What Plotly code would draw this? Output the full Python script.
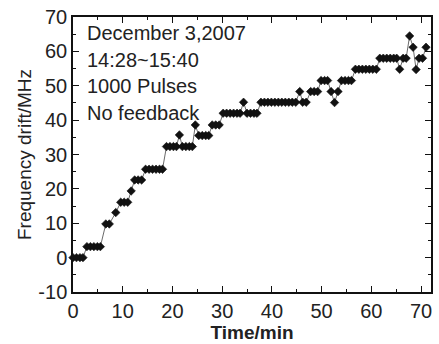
import plotly.graph_objects as go

time_min = [0.0, 0.7, 1.4, 2.0,
            2.8, 3.5, 4.2, 4.9, 5.5,
            6.6, 7.3,
            8.6,
            9.6, 10.3, 11.0,
            11.7,
            12.4, 13.1, 13.8,
            14.6, 15.3, 16.0, 16.7, 17.4, 18.0,
            18.8, 19.5, 20.2, 20.8, 21.4, 22.0, 22.7, 23.4, 24.0,
            24.6,
            25.3, 26.0, 26.7, 27.3,
            28.0, 28.7, 29.4,
            30.2, 30.9, 31.6, 32.3, 33.0, 33.6,
            34.3,
            35.0, 35.7, 36.4, 37.0,
            37.8, 38.5, 39.2, 39.9, 40.6, 41.3, 42.0, 42.7, 43.4, 44.1, 44.8,
            45.6, 46.2, 46.9,
            47.8, 48.5, 49.2,
            49.9, 50.6, 51.2,
            51.9, 52.6, 53.3,
            54.0, 54.7, 55.4, 56.0,
            56.8, 57.5, 58.2, 58.9, 59.6, 60.3, 61.0,
            61.7, 62.4, 63.1, 63.8, 64.5, 65.1, 65.7, 66.4, 67.0,
            67.7, 68.4, 69.0, 69.6, 70.3, 71.0]

drift_mhz = [0, 0, 0, 0,
             3.2, 3.2, 3.2, 3.2, 3.2,
             9.8, 9.8,
             13.1,
             16.1, 16.1, 16.1,
             19.4,
             22.6, 22.6, 22.6,
             25.7, 25.7, 25.7, 25.7, 25.7, 25.7,
             32.3, 32.3, 32.3, 32.3, 35.7, 32.3, 32.3, 32.3, 32.3,
             38.6,
             35.5, 35.5, 35.5, 35.5,
             38.6, 38.6, 38.6,
             42.0, 42.0, 42.0, 42.0, 42.0, 42.0,
             45.2,
             42.0, 42.0, 42.0, 42.0,
             45.2, 45.2, 45.2, 45.2, 45.2, 45.2, 45.2, 45.2, 45.2, 45.2, 45.2,
             48.3, 45.2, 45.2,
             48.3, 48.3, 48.3,
             51.5, 51.5, 51.5,
             48.3, 45.1, 48.3,
             51.5, 51.5, 51.5, 51.5,
             54.8, 54.8, 54.8, 54.8, 54.8, 54.8, 54.8,
             58.0, 58.0, 58.0, 58.0, 58.0, 58.0, 54.8, 58.0, 58.0,
             64.5, 61.2, 54.7, 58.0, 58.0, 61.2]

x_ticks = [0, 10, 20, 30, 40, 50, 60, 70]
y_ticks = [-10, 0, 10, 20, 30, 40, 50, 60, 70]
y_tick_text = ["-10", "0", "10", "20", "30", "40", "50", "60", "70"]

notes = ["December 3,2007", "14:28~15:40", "1000 Pulses", "No feedback"]
note_y = [65.4, 57.6, 49.8, 42.2]

FONT = "Liberation Sans, Arial, sans-serif"

fig = go.Figure()
fig.add_trace(go.Scatter(
    x=time_min, y=drift_mhz, mode="lines+markers",
    line=dict(color="#444444", width=0.8),
    marker=dict(symbol="diamond", size=6.5, color="#111111",
                line=dict(color="#111111", width=0.6)),
    cliponaxis=False, showlegend=False,
))

for txt, yy in zip(notes, note_y):
    fig.add_annotation(x=2.5, y=yy, xref="x", yref="y", text=txt,
                       showarrow=False, xanchor="left", yanchor="middle",
                       font=dict(family=FONT, size=20, color="#222222"))

axis_common = dict(
    showline=True, linecolor="#111111", linewidth=1.5, mirror="allticks",
    ticks="inside", ticklen=6, tickwidth=1.2, tickcolor="#111111",
    showgrid=False, zeroline=False,
    tickfont=dict(family=FONT, size=20, color="#222222"),
)

fig.update_xaxes(range=[0, 72], tickvals=x_ticks,
                 minor=dict(tickvals=[5, 15, 25, 35, 45, 55, 65], ticks="inside",
                            ticklen=3, tickwidth=1, tickcolor="#111111"),
                 title=dict(text="<b>Time/min</b>", standoff=2,
                            font=dict(family=FONT, size=19, color="#222222")),
                 **axis_common)
fig.update_yaxes(range=[-10, 70], tickvals=y_ticks, ticktext=y_tick_text,
                 minor=dict(tickvals=[-5, 5, 15, 25, 35, 45, 55, 65], ticks="inside",
                            ticklen=3, tickwidth=1, tickcolor="#111111"),
                 title=dict(text="Frequency drift/MHz", standoff=2,
                            font=dict(family=FONT, size=19, color="#222222")),
                 **axis_common)

fig.update_layout(
    width=439, height=344,
    margin=dict(l=73, r=6, t=17, b=52),
    paper_bgcolor="white", plot_bgcolor="white",
)

fig.write_html("out.html")
